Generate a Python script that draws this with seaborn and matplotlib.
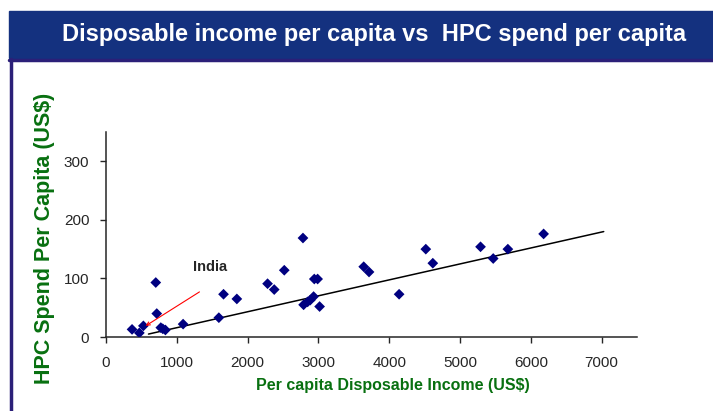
import matplotlib
matplotlib.use("Agg")
import matplotlib.pyplot as plt
import matplotlib.patches as patches
import pandas as pd
import seaborn as sns

# per capita disposable income (US$) vs HPC spend per capita (US$)
income = [368, 471, 528, 703, 717, 774, 802, 839, 1089, 1594, 1660, 1848,
          2282, 2376, 2518, 2782, 2791, 2848, 2885, 2932, 2942, 2989, 3017,
          3640, 3715, 4140, 4517, 4616, 5290, 5469, 5676, 6181]
hpc_spend = [13, 7, 19, 93, 40, 16, 14, 12, 22, 33, 73, 65,
             91, 81, 114, 169, 55, 60, 63, 69, 99, 99, 52,
             120, 111, 73, 150, 126, 154, 134, 150, 176]

# trend line end points
trend_x = [600, 7030]
trend_y = [5, 180]

# India point / label
india_x, india_y = 560, 19
x_ticks = [0, 1000, 2000, 3000, 4000, 5000, 6000, 7000]
y_ticks = [0, 100, 200, 300]

df = pd.DataFrame({"income": income, "spend": hpc_spend})

sns.set_style("ticks")
plt.rcParams['font.family'] = ['Liberation Sans', 'DejaVu Sans']

fig = plt.figure(figsize=(7.13, 4.11), dpi=100)

# title banner and frame lines
fig.patches.append(patches.Rectangle((9 / 713, 1 - 58 / 411), 704 / 713, 47 / 411,
                                     transform=fig.transFigure, color='#14317f', zorder=0))
fig.add_artist(plt.Line2D([10.5 / 713, 10.5 / 713], [0, 1 - 59 / 411], color='#2b1f78',
                          lw=2.5, transform=fig.transFigure))
fig.add_artist(plt.Line2D([9 / 713, 1], [1 - 60 / 411, 1 - 60 / 411], color='#2b1f78',
                          lw=2.5, transform=fig.transFigure))
fig.text(374 / 713, 1 - 35 / 411, "Disposable income per capita vs  HPC spend per capita",
         ha='center', va='center', color='white', fontsize=17, fontweight='bold')

ax = fig.add_axes([106 / 713, 1 - 337 / 411, 531 / 713, 205 / 411])
sns.scatterplot(data=df, x="income", y="spend", marker='D', s=30, color='#000080',
                edgecolor='none', ax=ax, zorder=3)
sns.lineplot(x=trend_x, y=trend_y, color='black', lw=1.1, ax=ax)

ax.annotate('', xy=(india_x, india_y), xytext=(1320, 77),
            arrowprops=dict(arrowstyle='->', color='red', lw=0.8, shrinkA=0, shrinkB=0,
                            mutation_scale=6))
ax.text(1470, 119, "India", ha='center', va='center', fontsize=10.5, fontweight='bold')

ax.set_xlim(0, 7500)
ax.set_ylim(0, 350)
ax.set_xticks(x_ticks)
ax.set_yticks(y_ticks)
ax.tick_params(labelsize=11, length=4, width=1, direction='out', pad=10)
ax.tick_params(axis='y', pad=8)
sns.despine(ax=ax)
for s in ['left', 'bottom']:
    ax.spines[s].set_linewidth(1.1)
ax.set_xlabel("")
ax.set_ylabel("")

fig.text(393 / 713, 1 - 385 / 411, "Per capita Disposable Income (US$)", ha='center',
         va='center', color='#087010', fontsize=11.5, fontweight='bold')
fig.text(45 / 713, 1 - 238 / 411, "HPC Spend Per Capita (US$)", ha='center', va='center',
         rotation=90, color='#087010', fontsize=15.5, fontweight='bold')

fig.savefig("out.png", dpi=100)
